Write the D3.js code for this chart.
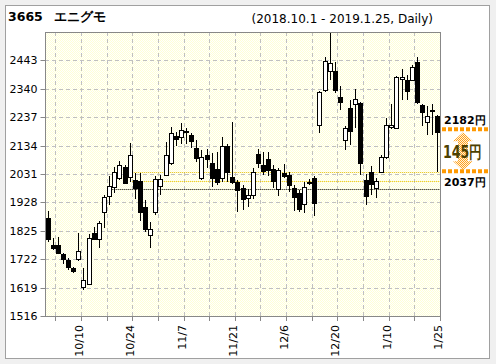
<!DOCTYPE html>
<html>
<head>
<meta charset="utf-8">
<script src="https://cdn.jsdelivr.net/npm/d3@7"></script>
<style>
body{margin:0;background:#f0f0f0;}
text{font-family:"DejaVu Sans",Verdana,sans-serif;}
</style>
</head>
<body>
<svg id="chart" width="496" height="364"></svg>
<script>
//trading days shown on the chart
const dates = ["10/1","10/2","10/3","10/4","10/5","10/9","10/10","10/11","10/12","10/15","10/16","10/17","10/18","10/19",
  "10/22","10/23","10/24","10/25","10/26","10/29","10/30","10/31",
  "11/1","11/2","11/5","11/6","11/7","11/8","11/9","11/12","11/13","11/14","11/15","11/16","11/19","11/20","11/21","11/22",
  "11/26","11/27","11/28","11/29","11/30",
  "12/3","12/4","12/5","12/6","12/7","12/10","12/11","12/12","12/13","12/14","12/17","12/18","12/19","12/20","12/21",
  "12/25","12/26","12/27","12/28",
  "1/4","1/7","1/8","1/9","1/10","1/11","1/15","1/16","1/17","1/18","1/21","1/22","1/23","1/24","1/25"];

//prices (yen)
const open  = [1870,1773,1773,1741,1719,1690,1722,1622,1631,1818,1797,1892,1951,1984,2018,2055,2019,2009,2007,1912,1810,1892,1988,2027,2070,2169,2167,2186,2172,2124,2015,2100,2072,2048,2015,2133,2021,2003,1980,1943,1955,2102,2063,2084,2048,1977,2033,2027,1981,1961,1921,2001,2015,2209,2334,2403,2403,2310,2155,2270,2285,2289,2011,2040,1982,2037,2091,2200,2198,2377,2373,2373,2437,2281,2218,2262,2241];
const high  = [1897,1798,1803,1745,1726,1694,1817,1689,1813,1839,1861,1955,2024,2058,2079,2064,2145,2034,2034,1935,1858,2024,2027,2147,2201,2185,2215,2197,2180,2154,2118,2122,2107,2111,2166,2140,2220,2008,1991,1976,2052,2121,2111,2111,2065,2052,2067,2038,1990,1973,2003,2012,2024,2333,2457,2545,2437,2349,2205,2299,2340,2292,2031,2060,2017,2100,2234,2285,2385,2413,2389,2426,2455,2285,2277,2285,2245];
const low   = [1785,1755,1740,1705,1683,1672,1715,1610,1628,1792,1762,1834,1919,1962,2009,1995,2003,1940,1861,1820,1764,1882,1955,2022,2064,2133,2140,2140,2127,2076,2011,2053,1985,1990,2003,2002,1995,1893,1900,1910,1942,2052,2027,2024,1980,1951,2015,1966,1896,1893,1890,1990,1879,2178,2328,2372,2325,2263,2119,2136,2198,2028,1920,1955,1944,2033,2087,2194,2193,2300,2301,2368,2285,2205,2171,2172,2037];
const close = [1797,1764,1743,1722,1695,1681,1752,1648,1798,1797,1854,1948,1986,2037,2064,2000,2100,1980,1892,1830,1830,2012,2012,2100,2179,2157,2191,2188,2152,2088,2093,2087,2015,2003,2133,2039,2003,1973,1939,1955,2039,2072,2043,2047,2007,2045,2024,1991,1949,1903,1983,2003,1927,2330,2441,2435,2336,2292,2198,2186,2304,2072,1951,1995,2007,2091,2208,2208,2382,2381,2331,2418,2292,2256,2242,2259,2182];

//axis ticks
const yTicks = [1516,1619,1722,1825,1928,2031,2134,2237,2340,2443];
const xLabels = ["10/10","10/24","11/7","11/21","12/6","12/20","1/10","1/25"];

//horizontal levels drawn across the chart and the day they start
const levels = [2037,2006,1977];
const levelStart = ["10/25","10/25","10/19"];

const pLeft = 45, pRight = 440, pTop = 32, pBottom = 316;
const svg = d3.select("#chart");

//outer frame
svg.append("rect")
  .attr("x",5.5).attr("y",5.5).attr("width",484).attr("height",353)
  .attr("fill","#fff").attr("stroke","#a0a0a0");

//dotted yellow background pattern
const defs = svg.append("defs");
const bg = defs.append("pattern").attr("id","bg").attr("width",2).attr("height",2).attr("patternUnits","userSpaceOnUse");
bg.append("rect").attr("width",2).attr("height",2).attr("fill","#ffffff");
bg.append("rect").attr("width",1).attr("height",1).attr("fill","#ffffd6");
bg.append("rect").attr("x",1).attr("y",1).attr("width",1).attr("height",1).attr("fill","#ffffd6");

const hatch = defs.append("pattern").attr("id","hatch").attr("width",2).attr("height",2).attr("patternUnits","userSpaceOnUse");
hatch.append("rect").attr("width",2).attr("height",2).attr("fill","#fff4dc");
hatch.append("rect").attr("width",1).attr("height",1).attr("fill","#ffa020");
hatch.append("rect").attr("x",1).attr("y",1).attr("width",1).attr("height",1).attr("fill","#ffa020");

const x = d3.scaleBand().domain(dates).range([pLeft,pRight]);
const y = d3.scaleLinear().domain([1516,2546]).range([pBottom,pTop]);
const bw = x.bandwidth();
const cx = d => Math.round(x(d)+bw/2);       //candle center
const px = v => Math.round(v)+0.5;           //crisp 1px line

svg.append("rect")
  .attr("x",pLeft).attr("y",pTop).attr("width",pRight-pLeft).attr("height",pBottom-pTop)
  .attr("fill","url(#bg)");

//y axis
const yAxis = svg.append("g")
  .attr("transform","translate("+(pLeft+0.5)+",0)")
  .call(d3.axisLeft(y).tickValues(yTicks).tickSize(5).tickPadding(3).tickFormat(d3.format("d")));
yAxis.select(".domain").remove();
yAxis.selectAll(".tick line").attr("stroke","#888");
yAxis.selectAll(".tick text").attr("font-size",11).attr("fill","#000")
  .attr("font-family","DejaVu Sans, Verdana, sans-serif");
yAxis.selectAll(".tick").attr("transform",d=>"translate(0,"+px(y(d))+")");

//horizontal grid
svg.append("g").selectAll("line")
  .data(yTicks.slice(1))
  .enter().append("line")
  .attr("x1",pLeft).attr("x2",pRight)
  .attr("y1",d=>px(y(d))).attr("y2",d=>px(y(d)))
  .attr("stroke","#c0c0c0").attr("stroke-dasharray","4,3");

//vertical grid every 5 trading days
const gridDates = dates.filter((d,i)=>i%5===1);
svg.append("g").selectAll("line")
  .data(gridDates)
  .enter().append("line")
  .attr("x1",d=>px(x(d)+bw)).attr("x2",d=>px(x(d)+bw))
  .attr("y1",pTop).attr("y2",pBottom)
  .attr("stroke","#c0c0c0").attr("stroke-dasharray","4,3");

//x tick marks
svg.append("g").selectAll("line")
  .data(gridDates)
  .enter().append("line")
  .attr("x1",d=>px(x(d)+bw)).attr("x2",d=>px(x(d)+bw))
  .attr("y1",pBottom).attr("y2",pBottom+5)
  .attr("stroke","#888");

//x labels (rotated)
svg.append("g").selectAll("text")
  .data(xLabels)
  .enter().append("text")
  .attr("transform",d=>"translate("+(Math.round(x(d)+bw)-2)+","+(pBottom+9)+") rotate(-90)")
  .attr("dy","0.35em")
  .attr("text-anchor","end")
  .attr("font-size",11)
  .text(d=>d);

//level lines
svg.append("g").selectAll("line")
  .data(levels)
  .enter().append("line")
  .attr("x1",(d,i)=>x(levelStart[i])).attr("x2",pRight)
  .attr("y1",d=>px(y(d))).attr("y2",d=>px(y(d)))
  .attr("stroke",(d,i)=>i<2?"#e8c000":"#000")
  .attr("stroke-width",1)
  .attr("stroke-dasharray","1,1");

//candles
const candles = svg.append("g").selectAll("g")
  .data(dates)
  .enter().append("g");

candles.append("line")
  .attr("x1",d=>cx(d)+0.5).attr("x2",d=>cx(d)+0.5)
  .attr("y1",(d,i)=>Math.round(y(high[i])))
  .attr("y2",(d,i)=>Math.round(y(low[i])))
  .attr("stroke","#000");

candles.append("rect")
  .attr("x",d=>cx(d)-1.5)
  .attr("y",(d,i)=>Math.round(y(Math.max(open[i],close[i])))+0.5)
  .attr("width",4)
  .attr("height",(d,i)=>Math.max(1,Math.round(y(Math.min(open[i],close[i])))-Math.round(y(Math.max(open[i],close[i])))))
  .attr("fill",(d,i)=>close[i]>=open[i]?"#fff":"#000")
  .attr("stroke","#000");

//plot border
svg.append("rect")
  .attr("x",pLeft+0.5).attr("y",pTop+0.5).attr("width",pRight-pLeft).attr("height",pBottom-pTop)
  .attr("fill","none").attr("stroke","#888");

//titles
svg.append("text").attr("x",8).attr("y",21).attr("font-size",12.5).attr("font-weight","bold").text("3665");
svg.append("text").attr("x",54).attr("y",21).attr("font-size",13).attr("font-weight","bold")
  .attr("font-family","Noto Sans CJK JP, sans-serif").text("エニグモ");
svg.append("text").attr("x",433).attr("y",22.5).attr("font-size",12).attr("text-anchor","end")
  .text("(2018.10.1 - 2019.1.25, Daily)");

//last close / low annotation on the right
const last = dates.length-1;
const hiY = y(close[last]), loY = y(low[last]);
const ann = svg.append("g");

ann.append("path")
  .attr("d",()=>{
    const c = 463, t = hiY, b = loY-2;
    return "M"+c+","+t+" L"+(c+10)+","+(t+9)+" L"+(c+5)+","+(t+9)+" L"+(c+5)+","+(b-9)+" L"+(c+10)+","+(b-9)+
      " L"+c+","+b+" L"+(c-10)+","+(b-9)+" L"+(c-5)+","+(b-9)+" L"+(c-5)+","+(t+9)+" L"+(c-10)+","+(t+9)+"Z";
  })
  .attr("fill","url(#hatch)");

ann.selectAll("line")
  .data([hiY-3,loY-1])
  .enter().append("line")
  .attr("x1",442).attr("x2",488)
  .attr("y1",d=>d).attr("y2",d=>d)
  .attr("stroke","#ff9900").attr("stroke-width",4).attr("stroke-dasharray","4,2");

ann.append("text").attr("x",444).attr("y",hiY-8).attr("font-size",11).attr("font-weight","bold")
  .text(close[last]+"円");
ann.append("text").attr("x",444).attr("y",loY+14).attr("font-size",11).attr("font-weight","bold")
  .text(low[last]+"円");
ann.append("text").attr("x",443).attr("y",(hiY+loY)/2+6).attr("font-size",17).attr("font-weight","bold")
  .attr("textLength",39).attr("lengthAdjust","spacingAndGlyphs")
  .attr("fill","#4d4000")
  .text((close[last]-low[last])+"円");
</script>
</body>
</html>
